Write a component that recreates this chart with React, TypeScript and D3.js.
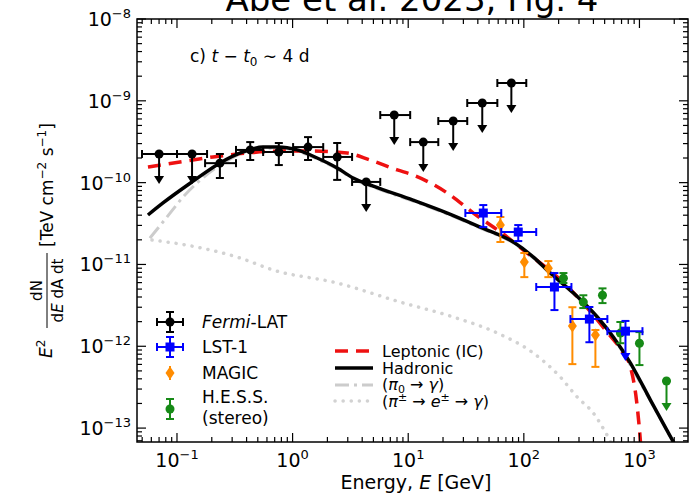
import React from 'react';
import * as d3 from 'd3';

const W = 694;
const H = 495;
const M = { left: 137, right: 688, top: 19, bottom: 442 };

const xDomain = [0.0451, 2630];
const yDomain = [1e-8, 6.76e-14];

// tick labels
const xMajor = [0.1, 1, 10, 100, 1000];
const xTickExp = ['\u22121', '0', '1', '2', '3'];
const yMajor = [1e-8, 1e-9, 1e-10, 1e-11, 1e-12, 1e-13];
const yTickExp = ['\u22128', '\u22129', '\u221210', '\u221211', '\u221212', '\u221213'];

// Fermi-LAT
const fermiE = [0.07, 0.135, 0.235, 0.43, 0.76, 1.36, 2.43, 4.33, 7.57, 13.5, 24.5, 43.7, 78];
const fermiElo = [0.0498, 0.1, 0.175, 0.324, 0.556, 1.01, 1.84, 3.27, 5.73, 10.4, 18.2, 32.4, 59];
const fermiEhi = [0.1, 0.182, 0.324, 0.556, 1.01, 1.84, 3.27, 5.73, 10.4, 18.2, 32.4, 59, 105];
const fermiF = [2.24e-10, 2.24e-10, 1.73e-10, 2.51e-10, 2.37e-10, 2.72e-10, 2.06e-10, 1.02e-10, 6.7e-10, 3.13e-10, 5.66e-10, 9.4e-10, 1.65e-9];
const fermiFlo = [0, 0, 1.14e-10, 1.89e-10, 1.64e-10, 1.89e-10, 1.08e-10, 0, 0, 0, 0, 0, 0];
const fermiFhi = [0, 0, 2.24e-10, 3.13e-10, 3.05e-10, 3.6e-10, 3.05e-10, 0, 0, 0, 0, 0, 0];
const fermiUL = [true, true, false, false, false, false, false, true, true, true, true, true, true];

// LST-1
const lstE = [44.6, 89.5, 184, 369, 757];
const lstElo = [31.2, 63.8, 128, 253, 528];
const lstEhi = [63.8, 128, 258, 528, 1062];
const lstF = [4.25e-11, 2.49e-11, 5.3e-12, 2.15e-12, 1.53e-12];
const lstFlo = [2.86e-11, 1.93e-11, 2.77e-12, 1.12e-12, 7.2e-13];
const lstFhi = [5.32e-11, 3.03e-11, 7.85e-12, 3.02e-12, 2.04e-12];

// MAGIC
const magicE = [62.7, 101, 163, 263, 416];
const magicF = [3.03e-11, 1.07e-11, 9.0e-12, 1.77e-12, 1.37e-12];
const magicFlo = [1.88e-11, 7.0e-12, 7.0e-12, 6.05e-13, 5.6e-13];
const magicFhi = [3.8e-11, 1.38e-11, 1.1e-11, 3.0e-12, 1.58e-12];

// H.E.S.S.
const hessE = [220, 327, 479, 684, 1000, 1714];
const hessF = [6.8e-12, 3.47e-12, 4.2e-12, 1.45e-12, 1.09e-12, 3.76e-13];
const hessFlo = [5.93e-12, 2.93e-12, 3.37e-12, 1.09e-12, 5.89e-13, 0];
const hessFhi = [7.85e-12, 4.2e-12, 5.1e-12, 1.98e-12, 1.49e-12, 0];
const hessUL = [false, false, false, false, false, true];

const ulFactor = 0.43;

// models
const hadE = [0.0561, 0.0757, 0.135, 0.236, 0.372, 0.556, 0.748, 1.094, 1.63, 2.43, 3.34, 4.98, 11.0, 21.8, 42.0, 81.1, 121, 169, 269, 432, 596, 836, 1245, 1968, 2265];
const hadF = [4.02e-11, 5.64e-11, 1.02e-10, 1.74e-10, 2.37e-10, 2.72e-10, 2.72e-10, 2.51e-10, 2.0e-10, 1.51e-10, 1.14e-10, 9.08e-11, 6.12e-11, 4.25e-11, 2.86e-11, 1.88e-11, 1.23e-11, 7.85e-12, 4.47e-12, 2.28e-12, 1.29e-12, 6.24e-13, 2.2e-13, 6.75e-14, 4.7e-14];

const lepE = [0.0561, 0.106, 0.205, 0.404, 0.78, 1.5, 2.96, 4.69, 8.04, 11.0, 21.8, 36.6, 71.9, 99.1, 195, 308, 508, 713, 836, 942, 1021, 1062];
const lepF = [1.55e-10, 1.79e-10, 2.06e-10, 2.3e-10, 2.43e-10, 2.43e-10, 2.3e-10, 1.89e-10, 1.43e-10, 1.24e-10, 7.46e-11, 4.25e-11, 2.16e-11, 1.5e-11, 7.0e-12, 3.67e-12, 1.58e-12, 8.5e-13, 5.57e-13, 2.2e-13, 6.75e-14, 3.1e-14];

const pi0E = [0.0583, 0.0818, 0.113, 0.149, 0.236, 0.372, 0.556, 0.748, 1.094, 1.63, 2.43, 3.34, 4.98, 11.0, 21.8, 42.0, 81.1, 121, 269, 596, 1245, 2265];
const pi0F = [2.1e-11, 3.79e-11, 6.67e-11, 9.89e-11, 1.64e-10, 2.3e-10, 2.63e-10, 2.63e-10, 2.43e-10, 1.94e-10, 1.47e-10, 1.11e-10, 8.8e-11, 5.95e-11, 4.13e-11, 2.78e-11, 1.83e-11, 1.2e-11, 4.35e-12, 1.26e-12, 2.15e-13, 4.6e-14];

const secE = [0.0608, 0.149, 0.351, 0.678, 2.43, 8.53, 24.5, 59.0, 121, 207, 290, 400, 508, 583];
const secF = [1.99e-11, 1.63e-11, 1.2e-11, 8.55e-12, 5.93e-12, 3.47e-12, 2.28e-12, 1.45e-12, 8.26e-13, 4.2e-13, 2.39e-13, 1.52e-13, 8.9e-14, 6.2e-14];

const FONT = 'DejaVu Sans, sans-serif';
const BLUE = '#0000ff';
const ORANGE = '#ff8c00';
const GREEN = '#168a16';

const x = d3.scaleLog().domain(xDomain).range([M.left, M.right]);
const y = d3.scaleLog().domain(yDomain).range([M.top, M.bottom]);

const line = d3
  .line<[number, number]>()
  .x((d) => x(d[0]))
  .y((d) => y(d[1]))
  .curve(d3.curveMonotoneX);

const zip = (a: number[], b: number[]) => a.map((v, i) => [v, b[i]] as [number, number]);

const minors = (lo: number, hi: number, n0: number, n1: number) => {
  const out: number[] = [];
  for (let n = n0; n <= n1; n++) {
    for (let k = 2; k <= 9; k++) {
      const v = k * Math.pow(10, n);
      if (v > lo && v < hi) out.push(v);
    }
  }
  return out;
};

const Cap = ({ cx, cy, horiz, color, w = 4 }: any) =>
  horiz ? (
    <line x1={cx - w} x2={cx + w} y1={cy} y2={cy} stroke={color} strokeWidth={2} />
  ) : (
    <line x1={cx} x2={cx} y1={cy - w} y2={cy + w} stroke={color} strokeWidth={2} />
  );

const ArrowDown = ({ cx, cy, color }: any) => (
  <path d={`M${cx - 5},${cy - 8} L${cx + 5},${cy - 8} L${cx},${cy} Z`} fill={color} />
);

const Marker = ({ kind, cx, cy, color }: any) => {
  if (kind === 'square') return <rect x={cx - 4.5} y={cy - 4.5} width={9} height={9} fill={color} />;
  if (kind === 'diamond')
    return <path d={`M${cx},${cy - 6.5} L${cx + 4.5},${cy} L${cx},${cy + 6.5} L${cx - 4.5},${cy} Z`} fill={color} />;
  return <circle cx={cx} cy={cy} r={4.5} fill={color} />;
};

const ErrPoint = ({ e, f, elo, ehi, flo, fhi, ul, color, kind, tip }: any) => {
  const px = x(e);
  const py = y(f);
  const parts: any[] = [];
  if (elo !== undefined) {
    parts.push(<line key="h" x1={x(elo)} x2={x(ehi)} y1={py} y2={py} stroke={color} strokeWidth={2} />);
    parts.push(<Cap key="c1" cx={x(elo)} cy={py} color={color} />);
    parts.push(<Cap key="c2" cx={x(ehi)} cy={py} color={color} />);
  }
  if (ul) {
    const yb = y(f * ulFactor);
    parts.push(<line key="v" x1={px} x2={px} y1={py} y2={yb - 4} stroke={color} strokeWidth={2} />);
    parts.push(<ArrowDown key="a" cx={px} cy={yb} color={color} />);
    if (elo === undefined) parts.push(<Cap key="ct" cx={px} cy={py} horiz color={color} />);
  } else {
    parts.push(<line key="v" x1={px} x2={px} y1={y(fhi)} y2={y(flo)} stroke={color} strokeWidth={2} />);
    parts.push(<Cap key="c3" cx={px} cy={y(fhi)} horiz color={color} />);
    if (tip) parts.push(<ArrowDown key="t" cx={px} cy={y(flo) + 3} color={color} />);
    else parts.push(<Cap key="c4" cx={px} cy={y(flo)} horiz color={color} />);
  }
  parts.push(<Marker key="m" kind={kind} cx={px} cy={py} color={color} />);
  return <g>{parts}</g>;
};

const LegendGlyph = ({ cx, cy, color, kind, xbar }: any) => (
  <g>
    {xbar && <line x1={cx - 13} x2={cx + 13} y1={cy} y2={cy} stroke={color} strokeWidth={2} />}
    {xbar && <Cap cx={cx - 13} cy={cy} color={color} />}
    {xbar && <Cap cx={cx + 13} cy={cy} color={color} />}
    <line x1={cx} x2={cx} y1={cy - 10} y2={cy + 10} stroke={color} strokeWidth={2} />
    <Cap cx={cx} cy={cy - 10} horiz color={color} />
    <Cap cx={cx} cy={cy + 10} horiz color={color} />
    <Marker kind={kind} cx={cx} cy={cy} color={color} />
  </g>
);

export default function App() {
  const xMinor = minors(xDomain[0], xDomain[1], -2, 3);
  const yMinor = minors(yDomain[1], yDomain[0], -14, -9);
  const TL = 9;
  const TS = 5;

  return (
    <svg
      width={W}
      height={H}
      style={{ display: 'block', position: 'absolute', left: 0, top: 0, background: '#fff' }}
      fontFamily={FONT}
    >
      <defs>
        <clipPath id="plot">
          <rect x={M.left} y={M.top} width={M.right - M.left} height={M.bottom - M.top} />
        </clipPath>
      </defs>

      {/* title, cut at the top edge */}
      <text x={412} y={11} fontSize={34} textAnchor="middle" fill="#000">
        Abe et al. 2023, Fig. 4
      </text>

      {/* models */}
      <g clipPath="url(#plot)" fill="none">
        <path d={line(zip(secE, secF)) || ''} stroke="#d2d2d2" strokeWidth={3.5} strokeDasharray="0.1 8" strokeLinecap="round" />
        <path d={line(zip(pi0E, pi0F)) || ''} stroke="#cccccc" strokeWidth={3} strokeDasharray="14 5 3 5" />
        <path d={line(zip(lepE, lepF)) || ''} stroke="#ee1111" strokeWidth={3.5} strokeDasharray="13 8" />
        <path d={line(zip(hadE, hadF)) || ''} stroke="#000" strokeWidth={3.5} />
      </g>

      {/* data */}
      <g clipPath="url(#plot)">
        {fermiE.map((e, i) => (
          <ErrPoint key={'f' + i} e={e} f={fermiF[i]} elo={fermiElo[i]} ehi={fermiEhi[i]} flo={fermiFlo[i]} fhi={fermiFhi[i]} ul={fermiUL[i]} color="#000" kind="circle" />
        ))}
        {magicE.map((e, i) => (
          <ErrPoint key={'m' + i} e={e} f={magicF[i]} flo={magicFlo[i]} fhi={magicFhi[i]} color={ORANGE} kind="diamond" />
        ))}
        {hessE.map((e, i) => (
          <ErrPoint key={'h' + i} e={e} f={hessF[i]} flo={hessFlo[i]} fhi={hessFhi[i]} ul={hessUL[i]} color={GREEN} kind="circle" />
        ))}
        {lstE.map((e, i) => (
          <ErrPoint key={'l' + i} e={e} f={lstF[i]} elo={lstElo[i]} ehi={lstEhi[i]} flo={lstFlo[i]} fhi={lstFhi[i]} color={BLUE} kind="square" tip={i === lstE.length - 1} />
        ))}
      </g>

      {/* frame and ticks */}
      <rect x={M.left} y={M.top} width={M.right - M.left} height={M.bottom - M.top} fill="none" stroke="#000" strokeWidth={1.5} />
      <g stroke="#000" strokeWidth={1.2}>
        {xMajor.map((v) => (
          <g key={'xM' + v}>
            <line x1={x(v)} x2={x(v)} y1={M.bottom} y2={M.bottom - TL} />
            <line x1={x(v)} x2={x(v)} y1={M.top} y2={M.top + TL} />
          </g>
        ))}
        {xMinor.map((v) => (
          <g key={'xm' + v}>
            <line x1={x(v)} x2={x(v)} y1={M.bottom} y2={M.bottom - TS} />
            <line x1={x(v)} x2={x(v)} y1={M.top} y2={M.top + TS} />
          </g>
        ))}
        {yMajor.map((v) => (
          <g key={'yM' + v}>
            <line x1={M.left} x2={M.left + TL} y1={y(v)} y2={y(v)} />
            <line x1={M.right} x2={M.right - TL} y1={y(v)} y2={y(v)} />
          </g>
        ))}
        {yMinor.map((v) => (
          <g key={'ym' + v}>
            <line x1={M.left} x2={M.left + TS} y1={y(v)} y2={y(v)} />
            <line x1={M.right} x2={M.right - TS} y1={y(v)} y2={y(v)} />
          </g>
        ))}
      </g>

      {/* tick labels */}
      <g fontSize={19} fill="#000">
        {xMajor.map((v, i) => (
          <text key={'xl' + v} x={x(v)} y={467} textAnchor="middle">
            10<tspan fontSize={13} dy={-8}>{xTickExp[i]}</tspan>
          </text>
        ))}
        {yMajor.map((v, i) => (
          <text key={'yl' + v} x={131} y={y(v) + 7} textAnchor="end">
            10<tspan fontSize={13} dy={-8}>{yTickExp[i]}</tspan>
          </text>
        ))}
      </g>

      {/* axis labels */}
      <text x={416} y={489} fontSize={19} textAnchor="middle">
        Energy, <tspan fontStyle="italic">E</tspan> [GeV]
      </text>
      <g transform="translate(47,358) rotate(-90)" fontSize={17}>
        <text x={0} y={5}>
          <tspan fontStyle="italic">E</tspan>
          <tspan fontSize={12} dy={-7}>2</tspan>
        </text>
        <line x1={30} x2={105} y1={0} y2={0} stroke="#000" strokeWidth={1} />
        <text x={67.5} y={-5} fontSize={15} textAnchor="middle">
          dN
        </text>
        <text x={67.5} y={16} fontSize={15} textAnchor="middle">
          d<tspan fontStyle="italic">E</tspan> dA dt
        </text>
        <text x={111} y={6}>
          [TeV cm<tspan fontSize={12} dy={-7}>{'\u22122'}</tspan>
          <tspan dy={7}> s</tspan>
          <tspan fontSize={12} dy={-7}>{'\u22121'}</tspan>
          <tspan dy={7}>]</tspan>
        </text>
      </g>

      {/* annotation */}
      <text x={190} y={62} fontSize={17}>
        c)  <tspan fontStyle="italic">t</tspan> {'\u2212'} <tspan fontStyle="italic">t</tspan>
        <tspan fontSize={12} dy={4}>0</tspan>
        <tspan dy={-4}> {'\u223c'} 4 d</tspan>
      </text>

      {/* data legend */}
      <g fontSize={17}>
        <LegendGlyph cx={170} cy={322} color="#000" kind="circle" xbar />
        <text x={202} y={328}>
          <tspan fontStyle="italic">Fermi</tspan>-LAT
        </text>
        <LegendGlyph cx={170} cy={347} color={BLUE} kind="square" xbar />
        <text x={202} y={353}>LST-1</text>
        <Marker kind="diamond" cx={170} cy={373} color={ORANGE} />
        <line x1={170} x2={170} y1={366} y2={380} stroke={ORANGE} strokeWidth={2} />
        <text x={202} y={379}>MAGIC</text>
        <LegendGlyph cx={170} cy={409} color={GREEN} kind="circle" />
        <text x={202} y={403}>H.E.S.S.</text>
        <text x={202} y={424}>(stereo)</text>
      </g>

      {/* model legend */}
      <g fontSize={16}>
        <line x1={335} x2={373} y1={351} y2={351} stroke="#ee1111" strokeWidth={3.5} strokeDasharray="13 8" />
        <text x={382} y={357}>Leptonic (IC)</text>
        <line x1={335} x2={373} y1={368} y2={368} stroke="#000" strokeWidth={3.5} />
        <text x={382} y={374}>Hadronic</text>
        <line x1={335} x2={373} y1={385} y2={385} stroke="#cccccc" strokeWidth={3} strokeDasharray="14 5 3 5" />
        <text x={382} y={390}>
          (<tspan fontStyle="italic">π</tspan>
          <tspan fontSize={11} dy={3}>0</tspan>
          <tspan dy={-3}> → </tspan>
          <tspan fontStyle="italic">γ</tspan>)
        </text>
        <line x1={335} x2={373} y1={401} y2={401} stroke="#d2d2d2" strokeWidth={3.5} strokeDasharray="0.1 8" strokeLinecap="round" />
        <text x={382} y={407}>
          (<tspan fontStyle="italic">π</tspan>
          <tspan fontSize={11} dy={-6}>±</tspan>
          <tspan dy={6}> → </tspan>
          <tspan fontStyle="italic">e</tspan>
          <tspan fontSize={11} dy={-6}>±</tspan>
          <tspan dy={6}> → </tspan>
          <tspan fontStyle="italic">γ</tspan>)
        </text>
      </g>
    </svg>
  );
}
